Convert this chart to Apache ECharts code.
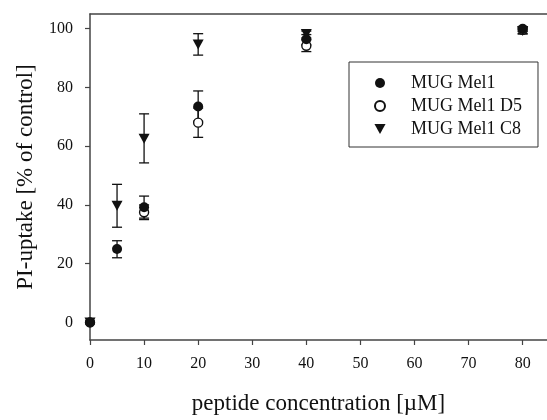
<!DOCTYPE html>
<html>
<head>
<meta charset="utf-8">
<script src="https://cdn.jsdelivr.net/npm/echarts@6/dist/echarts.min.js"></script>
<style>
  html, body { margin: 0; padding: 0; background: #fff; }
  #chart { width: 547px; height: 420px; }
</style>
</head>
<body>
<div id="chart"></div>
<script>
// concentrations [µM]
var concMel1 = [0, 5, 10, 20, 40, 80]
var mel1 = [0, 25, 39.2, 73.5, 96.4, 100]
var mel1Low = [0, 22, 35.5, 68.5, 94.5, 99]
var mel1High = [0, 27.8, 43, 78.8, 98, 100.6]

var concD5 = [0, 10, 20, 40, 80]
var d5 = [0, 37.5, 68, 94.2, 99.6]
var d5Low = [0, 35, 63, 92.2, 98.3]
var d5High = [0, 40, 73, 96.2, 100.5]

var concC8 = [0, 5, 10, 20, 40, 80]
var c8 = [0, 39.7, 62.5, 94.6, 98.2, 99.2]
var c8Low = [0, 32.4, 54.3, 91, 96.8, 98.2]
var c8High = [0, 47, 71, 98.3, 99.2, 100.2]

var xTicks = [0, 10, 20, 30, 40, 50, 60, 70, 80]
var yTicks = [0, 20, 40, 60, 80, 100]

var serif = '"Liberation Serif", "DejaVu Serif", serif'
var ink = '#111'
var axisGray = '#444'
var downTriangle = 'path://M0,0 L10,0 L5,9 Z'

function points(xs, ys) {
  return xs.map(function(x, i) { return [x, ys[i]] })
}
function bars(xs, lo, hi) {
  return xs.map(function(x, i) { return [x, lo[i], hi[i]] })
}

function errorBar(params, api) {
  var x = api.value(0)
  var top = api.coord([x, api.value(2)])
  var bot = api.coord([x, api.value(1)])
  var half = 5
  var style = { stroke: ink, lineWidth: 1.3, fill: null }
  return {
    type: 'group',
    children: [
      { type: 'line', shape: { x1: top[0], y1: top[1], x2: bot[0], y2: bot[1] }, style: style },
      { type: 'line', shape: { x1: top[0] - half, y1: top[1], x2: top[0] + half, y2: top[1] }, style: style },
      { type: 'line', shape: { x1: bot[0] - half, y1: bot[1], x2: bot[0] + half, y2: bot[1] }, style: style }
    ]
  }
}

function errSeries(data) {
  return {
    type: 'custom',
    renderItem: errorBar,
    data: data,
    z: 1,
    silent: true,
    encode: { x: 0, y: [1, 2] }
  }
}

var option = {
  animation: false,
  backgroundColor: '#fff',
  grid: { left: 90, top: 14, right: 0, bottom: 70 },
  legend: {
    orient: 'vertical',
    left: 349,
    top: 62,
    padding: [12, 16, 9, 25],
    itemWidth: 12,
    itemHeight: 10,
    itemGap: 5,
    borderColor: '#333',
    borderWidth: 1,
    textStyle: { fontFamily: serif, fontSize: 18, color: ink, lineHeight: 18, padding: [0, 0, 0, 20] },
    data: [
      { name: 'MUG Mel1' },
      { name: 'MUG Mel1 D5' },
      { name: 'MUG Mel1 C8', icon: downTriangle }
    ]
  },
  xAxis: [{
    type: 'value',
    min: 0,
    max: 84.5,
    name: 'peptide concentration [µM]',
    nameLocation: 'middle',
    nameGap: 52,
    nameTextStyle: { fontFamily: serif, fontSize: 23, color: ink },
    axisLine: { show: true, onZero: false, lineStyle: { color: axisGray, width: 1.5 } },
    axisTick: { show: true, inside: false, length: 5, customValues: xTicks, lineStyle: { color: axisGray, width: 1.2 } },
    axisLabel: { customValues: xTicks, margin: 16, fontFamily: serif, fontSize: 16, color: ink },
    splitLine: { show: false }
  }, {
    type: 'value',
    position: 'top',
    min: 0,
    max: 84.5,
    axisLine: { show: true, onZero: false, lineStyle: { color: axisGray, width: 1.5 } },
    axisTick: { show: false },
    axisLabel: { show: false },
    splitLine: { show: false }
  }],
  yAxis: {
    type: 'value',
    min: -6,
    max: 105,
    name: 'PI-uptake [% of control]',
    nameLocation: 'middle',
    nameGap: 53,
    nameTextStyle: { fontFamily: serif, fontSize: 23, color: ink },
    axisLine: { show: true, onZero: false, lineStyle: { color: axisGray, width: 1.5 } },
    axisTick: { show: true, inside: false, length: 5, customValues: yTicks, lineStyle: { color: axisGray, width: 1.2 } },
    axisLabel: { customValues: yTicks, margin: 17, fontFamily: serif, fontSize: 16, color: ink },
    splitLine: { show: false }
  },
  series: [
    errSeries(bars(concMel1, mel1Low, mel1High)),
    errSeries(bars(concD5, d5Low, d5High)),
    errSeries(bars(concC8, c8Low, c8High)),
    {
      name: 'MUG Mel1',
      type: 'scatter',
      symbol: 'circle',
      symbolSize: 10,
      itemStyle: { color: ink, opacity: 1 },
      data: points(concMel1, mel1),
      z: 3
    },
    {
      name: 'MUG Mel1 D5',
      type: 'scatter',
      symbol: 'circle',
      symbolSize: 9,
      itemStyle: { color: '#fff', borderColor: ink, borderWidth: 1.4, opacity: 1 },
      data: points(concD5, d5),
      z: 2
    },
    {
      name: 'MUG Mel1 C8',
      type: 'scatter',
      symbol: 'triangle',
      symbolRotate: 180,
      symbolSize: [11, 10],
      itemStyle: { color: ink, opacity: 1 },
      data: points(concC8, c8),
      z: 4
    }
  ]
}

var chart = echarts.init(document.getElementById('chart'))
chart.setOption(option)
</script>
</body>
</html>
